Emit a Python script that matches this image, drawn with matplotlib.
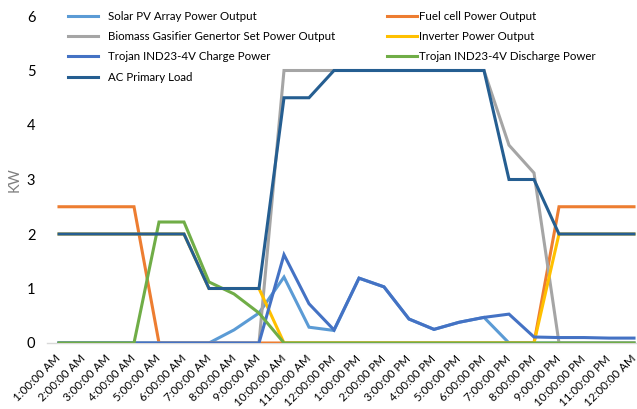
import matplotlib.pyplot as plt
from matplotlib.lines import Line2D

plt.rcParams['font.family'] = ['Lato', 'DejaVu Sans']

# Hourly data (KW)
hours = ["1:00:00 AM", "2:00:00 AM", "3:00:00 AM", "4:00:00 AM", "5:00:00 AM",
         "6:00:00 AM", "7:00:00 AM", "8:00:00 AM", "9:00:00 AM", "10:00:00 AM",
         "11:00:00 AM", "12:00:00 PM", "1:00:00 PM", "2:00:00 PM", "3:00:00 PM",
         "4:00:00 PM", "5:00:00 PM", "6:00:00 PM", "7:00:00 PM", "8:00:00 PM",
         "9:00:00 PM", "10:00:00 PM", "11:00:00 PM", "12:00:00 AM"]

solar = [0, 0, 0, 0, 0, 0, 0, 0.24, 0.55, 1.21, 0.29, 0.23, 1.19, 1.03, 0.44,
         0.25, 0.38, 0.47, 0, 0, 0, 0, 0, 0]
fuel_cell = [2.5, 2.5, 2.5, 2.5, 0, 0, 0, 0, 0, 0, 0, 0, 0, 0, 0, 0, 0, 0, 0, 0,
             2.5, 2.5, 2.5, 2.5]
biomass = [0, 0, 0, 0, 0, 0, 0, 0, 0, 5, 5, 5, 5, 5, 5, 5, 5, 5, 3.63, 3.12,
           0, 0, 0, 0]
inverter = [2, 2, 2, 2, 2, 2, 1, 1, 1, 0, 0, 0, 0, 0, 0, 0, 0, 0, 0, 0,
            2, 2, 2, 2]
charge = [0, 0, 0, 0, 0, 0, 0, 0, 0, 1.62, 0.72, 0.24, 1.19, 1.03, 0.44, 0.25,
          0.38, 0.47, 0.53, 0.11, 0.1, 0.1, 0.09, 0.09]
discharge = [0, 0, 0, 0, 2.22, 2.22, 1.12, 0.9, 0.55, 0, 0, 0, 0, 0, 0, 0, 0,
             0, 0, 0, 0, 0, 0, 0]
ac_load = [2, 2, 2, 2, 2, 2, 1, 1, 1, 4.5, 4.5, 5, 5, 5, 5, 5, 5, 5, 3, 3,
           2, 2, 2, 2]

series = [
    ("Solar PV Array Power Output", solar, "#5B9BD5"),
    ("Fuel cell Power Output", fuel_cell, "#ED7D31"),
    ("Biomass Gasifier Genertor Set Power Output", biomass, "#A5A5A5"),
    ("Inverter Power Output", inverter, "#FFC000"),
    ("Trojan IND23-4V Charge Power", charge, "#4472C4"),
    ("Trojan IND23-4V Discharge Power", discharge, "#70AD47"),
    ("AC Primary Load", ac_load, "#255E91"),
]

W, H = 637, 409
fig = plt.figure(figsize=(W / 100, H / 100), dpi=100)
ax = fig.add_axes([46.5 / W, (H - 343) / H, 600 / W, 327 / H])

x = list(range(len(hours)))
for name, vals, color in series:
    ax.plot(x, vals, color=color, lw=2.2, label=name, solid_joinstyle='miter')

ax.set_xlim(-0.5, 23.5)
ax.set_ylim(0, 6)
ax.set_yticks(range(7))
ax.tick_params(axis='y', length=0, labelsize=10.5, pad=8)
ax.set_xticks(x)
ax.set_xticklabels(hours, rotation=45, ha='right', va='center',
                   rotation_mode='anchor', fontsize=8.3)
ax.tick_params(axis='x', length=0, pad=10)
for s in ['top', 'right', 'left']:
    ax.spines[s].set_visible(False)
ax.spines['bottom'].set_color('#D9D9D9')
ax.spines['bottom'].set_linewidth(1)
ax.spines['bottom'].set_zorder(0)

fig.text(15 / W, (H - 180) / H, "KW", rotation=90, ha='center', va='center',
         fontsize=10.5, color='#7F7F7F')

# legend: two columns placed like the original
def handles(idx):
    return [Line2D([], [], color=series[i][2], lw=2.2) for i in idx], [series[i][0] for i in idx]

common = dict(frameon=False, fontsize=8.3, handlelength=2.6, handletextpad=0.85,
              labelspacing=0.8, borderpad=0, borderaxespad=0)
h1, l1 = handles([0, 2, 4, 6])
fig.legend(h1, l1, loc='upper left', bbox_to_anchor=(68 / W, (H - 11) / H), **common)
h2, l2 = handles([1, 3, 5])
common['handletextpad'] = 0.2
fig.legend(h2, l2, loc='upper left', bbox_to_anchor=(387 / W, (H - 11) / H), **common)

fig.savefig("out.png", dpi=100)
